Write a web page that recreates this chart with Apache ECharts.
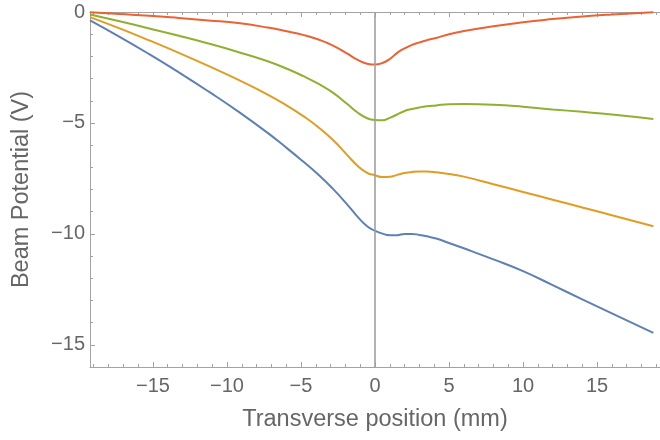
<!DOCTYPE html>
<html><head><meta charset="utf-8">
<script src="https://cdn.jsdelivr.net/npm/echarts@6/dist/echarts.min.js"></script>
<style>html,body{margin:0;padding:0;background:#fff}#c{width:660px;height:440px}</style>
</head><body><div id="c"></div>
<script>
// Transverse position (mm)
const xs = [-19.25, -17.25, -15.25, -13.25, -11.25, -9.25, -7.25, -5.87, -4.87, -3.87, -2.87, -1.87, -1.2, -0.53, 0, 0.5, 1, 1.5, 2, 2.5, 3, 3.5, 4.13, 5, 6, 8, 10, 12, 14, 16, 18.8];
// Beam potential (V) for the four curves
const blueVals   = [-0.38, -1.12, -1.90, -2.72, -3.58, -4.48, -5.45, -6.18, -6.73, -7.30, -7.95, -8.68, -9.21, -9.66, -9.86, -9.99, -10.06, -10.06, -10.00, -10.00, -10.05, -10.11, -10.21, -10.41, -10.65, -11.15, -11.68, -12.31, -12.95, -13.58, -14.46];
const orangeVals = [-0.23, -0.74, -1.28, -1.84, -2.43, -3.05, -3.72, -4.25, -4.68, -5.17, -5.75, -6.45, -6.92, -7.25, -7.36, -7.44, -7.43, -7.34, -7.26, -7.21, -7.19, -7.19, -7.22, -7.30, -7.42, -7.76, -8.11, -8.46, -8.81, -9.16, -9.66];
const greenVals  = [-0.11, -0.42, -0.74, -1.07, -1.42, -1.80, -2.22, -2.58, -2.88, -3.22, -3.62, -4.15, -4.52, -4.79, -4.87, -4.88, -4.77, -4.62, -4.46, -4.37, -4.30, -4.25, -4.21, -4.16, -4.15, -4.18, -4.27, -4.39, -4.50, -4.62, -4.82];
const redVals    = [-0.01, -0.09, -0.17, -0.27, -0.38, -0.50, -0.70, -0.88, -1.03, -1.23, -1.50, -1.88, -2.15, -2.33, -2.37, -2.30, -2.12, -1.84, -1.64, -1.48, -1.37, -1.27, -1.17, -1.00, -0.86, -0.64, -0.46, -0.32, -0.20, -0.11, -0.01];

const xMajorTicks = [-15, -10, -5, 0, 5, 10, 15];
const xMinorTicks = [-19, -18, -17, -16, -14, -13, -12, -11, -9, -8, -7, -6, -4, -3, -2, -1, 1, 2, 3, 4, 6, 7, 8, 9, 11, 12, 13, 14, 16, 17, 18, 19];
const yMajorTicks = [0, -5, -10, -15];
const yMinorTicks = [-1, -2, -3, -4, -6, -7, -8, -9, -11, -12, -13, -14];

const xTitle = 'Transverse position (mm)';
const yTitle = 'Beam Potential (V)';

const FONT = '"Liberation Sans", Arial, sans-serif';
const LINE = '#a3a3a3';
const TEXT = '#666666';
const fmt = v => (v < 0 ? '\u2212' + Math.abs(v) : String(v));

function axisCommon(extra) {
  return Object.assign({
    type: 'value',
    splitLine: { show: false },
    axisLine: { show: false, lineStyle: { color: LINE, width: 1 } },
    axisTick: { show: false },
    axisLabel: { show: false },
    minorTick: { show: false }
  }, extra);
}

function makeX(position, ticks, len, withLabels, withLine) {
  const a = axisCommon({
    position: position, min: -19.25, max: 19.25,
    axisLine: { show: withLine, onZero: false, lineStyle: { color: LINE, width: 1 } },
    axisTick: { show: true, inside: true, length: len, customValues: ticks, lineStyle: { color: LINE, width: 1 } }
  });
  if (withLabels) {
    a.axisLabel = { show: true, customValues: xMajorTicks, formatter: fmt, color: TEXT, fontSize: 20, fontFamily: FONT, margin: 9 };
    a.name = xTitle; a.nameLocation = 'middle'; a.nameGap = 41;
    a.nameTextStyle = { color: TEXT, fontSize: 23.5, fontFamily: FONT };
  }
  return a;
}
function makeY(position, ticks, len, withLabels, withLine) {
  const a = axisCommon({
    position: position, min: -16, max: 0,
    axisLine: { show: withLine, onZero: false, lineStyle: { color: LINE, width: 1 } },
    axisTick: { show: true, inside: true, length: len, customValues: ticks, lineStyle: { color: LINE, width: 1 } }
  });
  if (withLabels) {
    a.axisLabel = { show: true, customValues: yMajorTicks, formatter: fmt, color: TEXT, fontSize: 20, fontFamily: FONT, margin: 5 };
    a.name = yTitle; a.nameLocation = 'middle'; a.nameGap = 56;
    a.nameTextStyle = { color: TEXT, fontSize: 23.5, fontFamily: FONT };
  }
  return a;
}

const pairs = vals => xs.map((x, i) => [x, vals[i]]);
function line(name, color, vals, extra) {
  return Object.assign({
    name: name, type: 'line', data: pairs(vals), showSymbol: false, symbol: 'none',
    smooth: 0.5, xAxisIndex: 0, yAxisIndex: 0,
    lineStyle: { color: color, width: 2 }, itemStyle: { color: color }, z: 3
  }, extra || {});
}

const chart = echarts.init(document.getElementById('c'), null, { renderer: 'canvas' });
chart.setOption({
  animation: false,
  backgroundColor: '#ffffff',
  grid: { left: 90, right: -6, top: 12, bottom: 73, containLabel: false },
  xAxis: [
    makeX('bottom', xMajorTicks, 5, true, true),
    makeX('bottom', xMinorTicks, 3, false, false),
    makeX('top', xMajorTicks, 5, false, true),
    makeX('top', xMinorTicks, 3, false, false)
  ],
  yAxis: [
    makeY('left', yMajorTicks, 5, true, true),
    makeY('left', yMinorTicks, 3, false, false)
  ],
  series: [
    line('blue', '#5E81B5', blueVals, {
      markLine: {
        silent: true, symbol: 'none', animation: false,
        label: { show: false },
        lineStyle: { color: '#a0a0a0', width: 1.6, type: 'solid' },
        data: [{ xAxis: 0 }]
      }, z: 2
    }),
    line('orange', '#E19C24', orangeVals),
    line('green', '#8FB032', greenVals),
    line('red', '#EB6235', redVals)
  ]
});
</script>
</body></html>
